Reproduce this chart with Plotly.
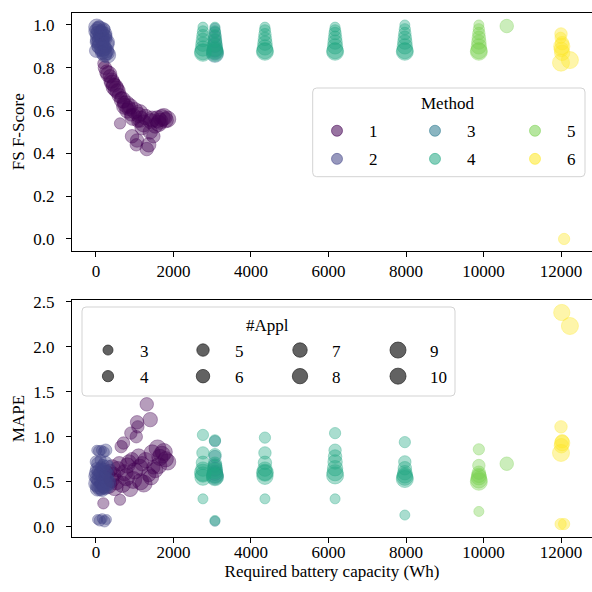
import math
import plotly.graph_objects as go

# ---------------- data ----------------
# Method 1
m1_x = [190, 230, 280, 330, 360, 400, 420, 460, 480, 520, 560, 600, 620, 650, 680, 710, 740, 780,
        810, 850, 880, 900, 930, 960, 1000, 1040, 1060, 1080, 1100, 1130, 1150, 1190, 1230, 1280,
        1310, 1360, 1400, 1420, 1450, 1480, 1530, 1590, 1620, 1650, 1700, 1750, 1800, 1850]
m1_fs = [0.82, 0.80, 0.78, 0.77, 0.76, 0.74, 0.73, 0.72, 0.71, 0.70, 0.69, 0.67, 0.54, 0.66, 0.65,
         0.64, 0.62, 0.63, 0.60, 0.61, 0.62, 0.58, 0.48, 0.57, 0.60, 0.44, 0.46, 0.55, 0.58, 0.59,
         0.56, 0.52, 0.54, 0.57, 0.42, 0.44, 0.50, 0.55, 0.56, 0.48, 0.53, 0.56, 0.54, 0.55, 0.565,
         0.57, 0.555, 0.56]
m1_mape = [0.26, 0.55, 0.60, 0.46, 0.62, 0.52, 0.66, 0.58, 0.44, 0.50, 0.64, 0.70, 0.30, 0.89, 0.47,
           0.93, 0.60, 0.55, 0.68, 0.72, 0.42, 1.04, 0.75, 0.52, 0.62, 1.00, 1.16, 1.11, 0.78, 0.66,
           0.50, 0.70, 0.48, 0.74, 1.36, 0.58, 1.19, 0.55, 0.82, 0.66, 0.63, 0.87, 0.68, 0.77, 0.80,
           0.83, 0.75, 0.72]
m1_appl = [4, 6, 7, 9, 6, 8, 8, 7, 10, 9, 8, 7, 4, 5, 9, 5, 9, 10, 8, 7, 8, 5, 6, 10, 9, 5, 6, 5,
           8, 9, 9, 7, 10, 8, 6, 7, 7, 8, 9, 6, 8, 10, 9, 9, 10, 10, 8, 9]

# Method 2
m2_x = [20, 80, 140, 200, 250, 40, 100, 160, 220, 270, 10, 60, 120, 180, 240, 290, 30, 90, 150,
        210, 270, 0, 50, 110, 170, 230, 300, 20, 80, 140, 200, 260, 40, 100, 160, 220, 70, 130,
        190, 250, 5, 280]
m2_fs = [0.97, 0.95, 0.98, 0.93, 0.96, 0.99, 0.97, 0.95, 0.98, 0.94, 0.92, 0.90, 0.88, 0.91, 0.89,
         0.87, 0.95, 0.93, 0.94, 0.90, 0.88, 0.97, 0.96, 0.92, 0.89, 0.87, 0.86, 0.99, 0.98, 0.96,
         0.94, 0.91, 0.93, 0.90, 0.87, 0.86, 0.99, 0.97, 0.98, 0.95, 0.88, 0.92]
m2_mape = [0.85, 0.84, 0.85, 0.83, 0.85, 0.08, 0.07, 0.09, 0.06, 0.08, 0.72, 0.70, 0.74, 0.68, 0.71,
           0.66, 0.64, 0.62, 0.60, 0.63, 0.58, 0.56, 0.54, 0.52, 0.50, 0.53, 0.49, 0.48, 0.46, 0.44,
           0.47, 0.45, 0.42, 0.43, 0.41, 0.44, 0.58, 0.66, 0.55, 0.61, 0.60, 0.51]
m2_appl = [3, 4, 3, 4, 5, 3, 4, 3, 4, 3, 5, 6, 4, 5, 6, 7, 6, 7, 8, 6, 7, 7, 8, 10, 9, 8, 9, 9, 10,
           8, 10, 9, 7, 8, 6, 7, 5, 4, 6, 5, 6, 8]

# Method 3
m3_x = [3070, 3070, 3070, 3070, 3070, 3070, 3070, 3070]
m3_fs = [0.985, 0.965, 0.945, 0.925, 0.905, 0.885, 0.875, 0.865]
m3_mape = [0.06, 0.95, 0.78, 0.68, 0.64, 0.60, 0.58, 0.56]
m3_appl = [3, 4, 5, 6, 7, 8, 9, 10]

# Method 4
m4_x = [2760] * 8 + [3070] * 8 + [4360] * 8 + [6170] * 8 + [7970] * 8
m4_fs = [0.99, 0.97, 0.95, 0.93, 0.91, 0.89, 0.875, 0.87,
         0.99, 0.97, 0.95, 0.93, 0.91, 0.89, 0.88, 0.87,
         0.99, 0.975, 0.955, 0.935, 0.915, 0.895, 0.88, 0.875,
         0.99, 0.975, 0.96, 0.94, 0.92, 0.90, 0.88, 0.875,
         1.00, 0.98, 0.96, 0.94, 0.92, 0.90, 0.88, 0.875]
m4_mape = [0.31, 1.02, 0.82, 0.71, 0.64, 0.58, 0.55, 0.60,
           0.07, 0.96, 0.80, 0.70, 0.66, 0.62, 0.57, 0.55,
           0.31, 0.99, 0.82, 0.71, 0.64, 0.60, 0.56, 0.60,
           0.31, 1.04, 0.85, 0.78, 0.72, 0.65, 0.60, 0.57,
           0.13, 0.94, 0.72, 0.65, 0.60, 0.57, 0.55, 0.53]
m4_appl = [3, 4, 5, 6, 7, 8, 9, 10] * 5

# Method 5
m5_x = [9880, 9880, 9880, 9880, 9880, 9880, 9880, 9880, 10600]
m5_fs = [1.00, 0.98, 0.96, 0.94, 0.92, 0.90, 0.88, 0.875, 0.995]
m5_mape = [0.17, 0.86, 0.68, 0.60, 0.57, 0.55, 0.52, 0.50, 0.70]
m5_appl = [3, 4, 5, 6, 7, 8, 9, 10, 6]

# Method 6
m6_x = [12000, 12030, 12010, 12030, 12000, 12230, 12020, 12080, 11990]
m6_fs = [0.958, 0.915, 0.886, 0.87, 0.824, 0.836, 0.90, 0.0, 0.94]
m6_mape = [1.11, 0.95, 0.90, 0.93, 0.82, 2.23, 2.38, 0.03, 0.03]
m6_appl = [5, 6, 7, 8, 10, 10, 9, 4, 4]

methods = ["1", "2", "3", "4", "5", "6"]
appl_levels = [3, 4, 5, 6, 7, 8, 9, 10]
x_ticks = [0, 2000, 4000, 6000, 8000, 10000, 12000]
fs_ticks = [0.0, 0.2, 0.4, 0.6, 0.8, 1.0]
mape_ticks = [0.0, 0.5, 1.0, 1.5, 2.0, 2.5]

# ---------------- style ----------------
FONT = "Liberation Serif"
colors = {"1": (68, 1, 84), "2": (65, 68, 135), "3": (42, 120, 142),
          "4": (34, 168, 132), "5": (122, 209, 81), "6": (253, 231, 37)}
ALPHA = 0.55


def rgba(c, a):
    return f"rgba({c[0]},{c[1]},{c[2]},{a})"


def diam(n):
    return math.sqrt(100 + 27 * (n - 3))


data = {
    "1": (m1_x, m1_fs, m1_mape, m1_appl),
    "2": (m2_x, m2_fs, m2_mape, m2_appl),
    "3": (m3_x, m3_fs, m3_mape, m3_appl),
    "4": (m4_x, m4_fs, m4_mape, m4_appl),
    "5": (m5_x, m5_fs, m5_mape, m5_appl),
    "6": (m6_x, m6_fs, m6_mape, m6_appl),
}

fig = go.Figure()
for m in methods:
    xs, fs, mp, ap = data[m]
    sizes = [diam(a) for a in ap]
    mk = dict(size=sizes, sizemode="diameter", color=rgba(colors[m], ALPHA),
              line=dict(color=rgba(colors[m], ALPHA), width=1))
    fig.add_trace(go.Scatter(x=xs, y=fs, mode="markers", marker=mk, showlegend=False,
                             xaxis="x", yaxis="y", hoverinfo="skip"))
    fig.add_trace(go.Scatter(x=xs, y=mp, mode="markers", marker=mk, showlegend=False,
                             xaxis="x2", yaxis="y2", hoverinfo="skip"))

# legend entries (one legend per legend column)
W, H = 592, 592
ML, MR, MT, MB = 72, 0, 13, 55
PW, PH = W - ML - MR, H - MT - MB


def px2x(px):
    return (px - ML) / PW


def px2y(py):
    return (H - MB - py) / PH


meth_cols = [["1", "2"], ["3", "4"], ["5", "6"]]
meth_sym_x = [337, 435, 535]
size_cols = [[3, 4], [5, 6], [7, 8], [9, 10]]
size_sym_x = [108, 203, 300, 398]
ITEMW = 54
SYM_OFF = ITEMW / 2 + 5

legend_layouts = {}
li = 1
for ci, col in enumerate(meth_cols):
    name = "legend" if li == 1 else f"legend{li}"
    for m in col:
        fig.add_trace(go.Scatter(x=[None], y=[None], mode="markers", name=m, legend=name,
                                 legendgroup=f"m{m}",
                                 marker=dict(size=11, color=rgba(colors[m], ALPHA),
                                             line=dict(color=rgba(colors[m], ALPHA), width=1))))
    legend_layouts[name] = dict(x=px2x(meth_sym_x[ci] - SYM_OFF), y=px2y(130.7 - 17.5),
                                tracegroupgap=3)
    li += 1
for ci, col in enumerate(size_cols):
    name = f"legend{li}"
    for n in col:
        fig.add_trace(go.Scatter(x=[None], y=[None], mode="markers", name=str(n), legend=name,
                                 legendgroup=f"s{n}",
                                 marker=dict(size=diam(n), color="rgba(45,45,45,0.75)",
                                             line=dict(color="rgba(45,45,45,0.75)", width=1))))
    legend_layouts[name] = dict(x=px2x(size_sym_x[ci] - SYM_OFF), y=px2y(350 - 17.5),
                                tracegroupgap=1)
    li += 1

for name, d in legend_layouts.items():
    fig.update_layout({name: dict(x=d["x"], y=d["y"], xanchor="left", yanchor="top",
                                  orientation="v", bgcolor="rgba(0,0,0,0)", borderwidth=0,
                                  itemwidth=ITEMW, itemsizing="trace",
                                  tracegroupgap=d["tracegroupgap"],
                                  font=dict(family=FONT, size=17, color="black"))})


def rounded_box(x0, y0, x1, y1, r=4):
    X0, X1 = px2x(x0), px2x(x1)
    Y0, Y1 = px2y(y0), px2y(y1)
    rx, ry = r / PW, r / PH
    return (f"M {X0+rx},{Y0} L {X1-rx},{Y0} Q {X1},{Y0} {X1},{Y0-ry} "
            f"L {X1},{Y1+ry} Q {X1},{Y1} {X1-rx},{Y1} L {X0+rx},{Y1} "
            f"Q {X0},{Y1} {X0},{Y1+ry} L {X0},{Y0-ry} Q {X0},{Y0} {X0+rx},{Y0} Z")


shapes = [
    dict(type="path", xref="paper", yref="paper", path=rounded_box(312.7, 88, 585, 176.7),
         fillcolor="rgba(255,255,255,0.8)", line=dict(color="#d3d3d3", width=1), layer="above"),
    dict(type="path", xref="paper", yref="paper", path=rounded_box(82, 307, 455, 396),
         fillcolor="rgba(255,255,255,0.8)", line=dict(color="#d3d3d3", width=1), layer="above"),
]

annotations = [
    dict(text="Method", x=px2x(447), y=px2y(103), xref="paper", yref="paper", showarrow=False,
         xanchor="center", yanchor="middle", font=dict(family=FONT, size=17, color="black")),
    dict(text="#Appl", x=px2x(267), y=px2y(325), xref="paper", yref="paper", showarrow=False,
         xanchor="center", yanchor="middle", font=dict(family=FONT, size=17, color="black")),
]

axis_common = dict(showgrid=False, zeroline=False, showline=True, linecolor="black",
                   linewidth=1.1, ticks="outside", ticklen=5, tickwidth=1.1, tickcolor="black",
                   tickfont=dict(family=FONT, size=17, color="black"))

xr = [-619, 12800]
fig.update_layout(
    width=W, height=H,
    margin=dict(l=ML, r=MR, t=MT, b=MB, autoexpand=False),
    paper_bgcolor="white", plot_bgcolor="white",
    font=dict(family=FONT, size=17, color="black"),
    xaxis=dict(domain=[0, 1], anchor="y", range=xr, tickvals=x_ticks, tickformat="d",
               mirror=True, ticklabelstandoff=0, **axis_common),
    yaxis=dict(domain=[px2y(250.5), 1], anchor="x", range=[-0.054, 1.056], tickvals=fs_ticks,
               tickformat=".1f", ticklabelstandoff=8,
               title=dict(text="FS F-Score", standoff=4, font=dict(family=FONT, size=17)),
               **axis_common),
    xaxis2=dict(domain=[0, 1], anchor="y2", range=xr, tickvals=x_ticks, tickformat="d",
                mirror=True, ticklabelstandoff=-5,
                title=dict(text="Required battery capacity (Wh)", standoff=3,
                           font=dict(family=FONT, size=17)),
                **axis_common),
    yaxis2=dict(domain=[0, px2y(300)], anchor="x2", range=[-0.114, 2.519], tickvals=mape_ticks,
                tickformat=".1f", ticklabelstandoff=8,
                title=dict(text="MAPE", standoff=4, font=dict(family=FONT, size=17)),
                **axis_common),
    shapes=shapes,
    annotations=annotations,
)

fig.write_html("out.html")
